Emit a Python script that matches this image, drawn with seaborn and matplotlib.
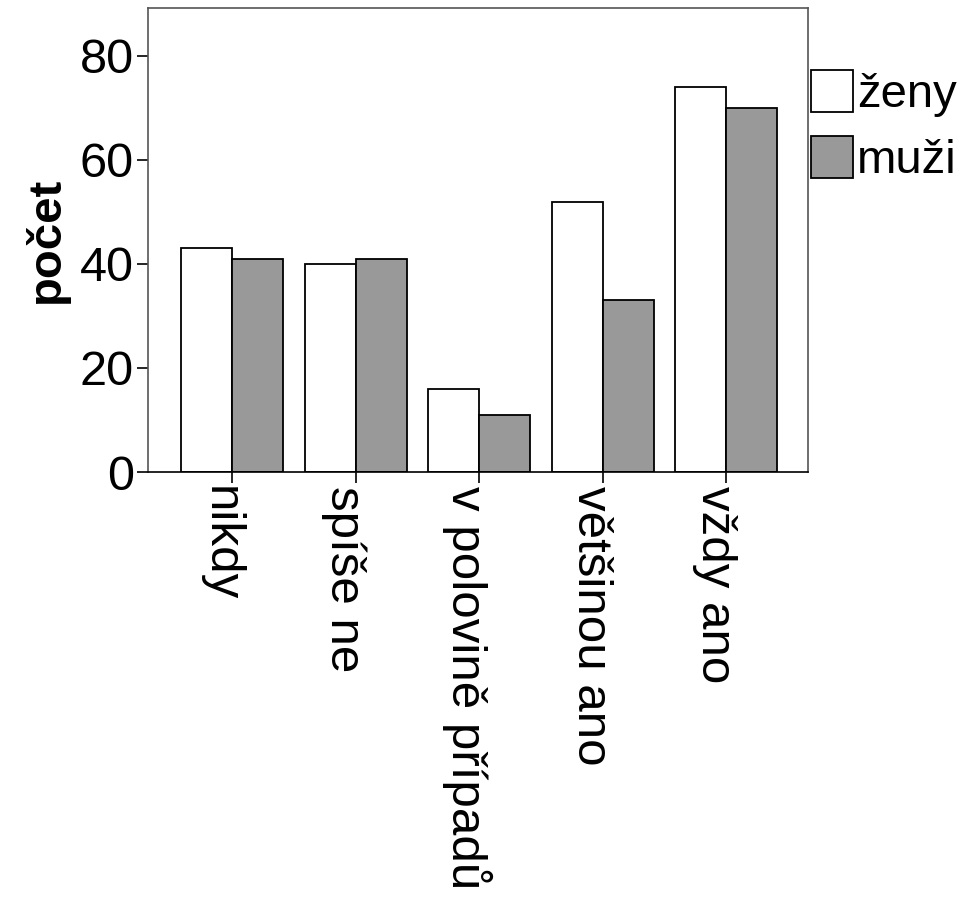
import pandas as pd
import matplotlib
matplotlib.use('Agg')
import matplotlib.pyplot as plt
import matplotlib.transforms as mtransforms
import seaborn as sns

# data
categories = ['nikdy', 'spíše ne', 'v polovině případů', 'většinou ano', 'vždy ano']
zeny = [43, 40, 16, 52, 74]
muzi = [41, 41, 11, 33, 70]

df = pd.DataFrame({
    'kategorie': categories * 2,
    'pohlavi': ['ženy'] * len(categories) + ['muži'] * len(categories),
    'pocet': zeny + muzi,
})

sns.set_style('white')
plt.rcParams['font.family'] = ['Liberation Sans', 'DejaVu Sans']
plt.rcParams['text.color'] = 'black'
plt.rcParams['xtick.color'] = 'black'
plt.rcParams['ytick.color'] = 'black'
plt.rcParams['axes.labelcolor'] = 'black'

fig = plt.figure(figsize=(9.76, 9.0), dpi=100)
ax = fig.add_axes([148 / 976, 1 - 472 / 900, 660 / 976, 464 / 900])

sns.barplot(data=df, x='kategorie', y='pocet', hue='pohlavi',
            palette={'ženy': 'white', 'muži': '#999999'},
            edgecolor='black', linewidth=1.3, width=0.826, ax=ax)

ax.set_xlim(-0.68, 4.66)
ax.set_ylim(0, 89.2)
ax.set_yticks([0, 20, 40, 60, 80])
ax.set_xlabel('')
ax.set_ylabel('počet', fontsize=34, fontweight='bold', labelpad=8)
ax.tick_params(axis='y', labelsize=35, length=8, width=1.2, direction='out', left=True, pad=2)
ax.tick_params(axis='x', labelsize=35.5, length=8, width=1.2, direction='out', bottom=True, pad=2)
shift = mtransforms.ScaledTranslation(-12 / 100, 0, fig.dpi_scale_trans)
for lab in ax.get_xticklabels():
    lab.set_rotation(-90)
    lab.set_va('top')
    lab.set_ha('center')
    lab.set_transform(lab.get_transform() + shift)

for sp in ax.spines.values():
    sp.set_color('#555555')
    sp.set_linewidth(1.2)
ax.spines['bottom'].set_color('black')

handles, labels = ax.get_legend_handles_labels()
ax.legend(handles, labels, loc='upper left', bbox_to_anchor=(0.998, 0.877),
          frameon=False, fontsize=34, handlelength=0.88, handleheight=1.0,
          handletextpad=0.08, labelspacing=0.4, borderaxespad=0.1,
          borderpad=0.0)

fig.savefig('out.png', dpi=100)
